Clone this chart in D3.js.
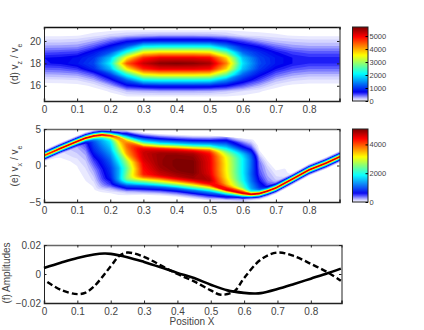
<!DOCTYPE html>
<html>
<head>
<meta charset="utf-8">
<script src="https://cdn.jsdelivr.net/npm/d3@7"></script>
<style>
  body { margin: 0; background: #fff; }
  text { font-family: "Liberation Sans", Arial, sans-serif; fill: #444; }
</style>
</head>
<body>
<div id="chart"></div>
<script>
// panel (d): one column per position, one row per vz, top to bottom
var positionD = [0, 0.05, 0.1, 0.15, 0.2, 0.25, 0.3, 0.35, 0.4, 0.45, 0.5, 0.55, 0.6, 0.65, 0.7, 0.75, 0.8, 0.85, 0.9];
var vzRows = [21, 20.5, 20, 19.5, 19, 18.5, 18, 17.5, 17, 16.5, 16, 15.5, 15, 14.5];
var countsD = [
  [0, 30, 170, 320, 520, 700, 680, 480, 280, 100, 0, 0, 0, 0],
  [0, 30, 170, 330, 540, 730, 730, 500, 300, 110, 0, 0, 0, 0],
  [0, 40, 190, 350, 570, 800, 850, 600, 340, 130, 10, 0, 0, 0],
  [0, 90, 290, 520, 830, 1020, 1120, 960, 540, 270, 70, 0, 0, 0],
  [20, 170, 480, 800, 1200, 1800, 2100, 1750, 1050, 620, 280, 60, 0, 0],
  [30, 230, 700, 1250, 2300, 3600, 4500, 3600, 2300, 1250, 700, 230, 30, 0],
  [30, 270, 850, 2100, 3500, 4800, 5300, 4800, 3500, 2100, 850, 270, 30, 0],
  [30, 300, 900, 2200, 3700, 5100, 5650, 5100, 3700, 2200, 900, 300, 30, 0],
  [30, 300, 900, 2200, 3700, 5100, 5700, 5100, 3700, 2200, 900, 300, 30, 0],
  [30, 300, 900, 2200, 3700, 5100, 5650, 5100, 3700, 2200, 900, 300, 30, 0],
  [30, 280, 880, 2150, 3600, 5000, 5500, 5000, 3600, 2150, 880, 280, 30, 0],
  [30, 230, 750, 1500, 2700, 3800, 4300, 3800, 2700, 1500, 750, 220, 30, 0],
  [20, 130, 550, 900, 1300, 1800, 2000, 1800, 1300, 900, 500, 130, 10, 0],
  [10, 100, 350, 700, 950, 1100, 1150, 1050, 800, 550, 280, 60, 0, 0],
  [0, 70, 230, 460, 720, 850, 850, 700, 480, 260, 80, 0, 0, 0],
  [0, 40, 190, 340, 560, 700, 700, 530, 330, 150, 20, 0, 0, 0],
  [0, 30, 170, 310, 500, 640, 620, 460, 270, 110, 10, 0, 0, 0],
  [0, 30, 170, 310, 500, 640, 620, 460, 270, 110, 10, 0, 0, 0],
  [0, 30, 170, 310, 500, 640, 620, 460, 270, 110, 10, 0, 0, 0]
];

// panel (e): the two thin ridges, rows are read relative to them
var positionE = [0, 0.05, 0.1, 0.125, 0.15, 0.175, 0.2, 0.225, 0.25, 0.3, 0.35, 0.4, 0.45, 0.5, 0.55, 0.6, 0.625, 0.65, 0.675, 0.7, 0.75, 0.8, 0.85, 0.9];
var ridgeHigh = [1.35, 2.35, 3.3, 3.75, 4.05, 4.2, 4.1, 3.85, 3.4, 2.5, 2.3, 2.2, 2.1, 2.1, 1.9, 1.7, 1.6, 1.3, 0.3, -1, 0.15, 1.4, 2.3, 3.35];
var ridgeLow = [-1.3, -0.3, -1, -2.4, -2.9, -2.65, -2.4, -2.3, -2.2, -2, -2.1, -2.3, -2.55, -2.8, -3.35, -3.8, -3.95, -3.85, -3.5, -3.07, -1.85, -0.6, 0.3, 1.35];
var highOffsets = [2, 1.4, 0.8, 0.5, 0.25, 0, -0.25, -0.5, -0.8];
var middleFractions = [0.25, 0.5, 0.75];
var lowOffsets = [0.8, 0.5, 0.25, 0, -0.25, -0.5, -0.8, -1.4, -2];
var countsE = [
  [0, 0, 0, 500, 1900, 4400, 1900, 500, 40, 0, 0, 0, 0, 0, 0, 0, 0, 0, 0, 0, 0],
  [0, 0, 20, 500, 1900, 4800, 1900, 500, 80, 60, 40, 20, 10, 0, 0, 0, 0, 0, 0, 0, 0],
  [0, 0, 30, 500, 1900, 4800, 2000, 650, 260, 200, 140, 60, 40, 30, 10, 0, 0, 0, 0, 0, 0],
  [0, 0, 30, 520, 1950, 4800, 2100, 900, 500, 300, 190, 110, 70, 50, 40, 20, 10, 0, 0, 0, 0],
  [0, 0, 40, 550, 2000, 4700, 2400, 1350, 1050, 800, 490, 280, 130, 100, 70, 50, 40, 20, 0, 0, 0],
  [0, 0, 50, 600, 2000, 4600, 2700, 1800, 1500, 1150, 800, 600, 480, 420, 370, 320, 260, 180, 70, 0, 0],
  [0, 0, 60, 650, 2000, 4400, 3100, 2230, 1870, 1510, 1160, 930, 800, 710, 620, 580, 490, 380, 220, 40, 0],
  [0, 30, 300, 1100, 2300, 3800, 3600, 3300, 3100, 2500, 1900, 1500, 1500, 1500, 1400, 1200, 950, 700, 450, 100, 0],
  [0, 90, 890, 1870, 2670, 3400, 3750, 3900, 3900, 3600, 2760, 2400, 2580, 2580, 2400, 2050, 1600, 1160, 800, 220, 0],
  [50, 670, 1780, 2670, 3300, 4150, 4500, 4650, 4700, 4650, 4500, 4400, 4300, 4000, 3500, 2940, 2400, 1870, 1160, 450, 40],
  [50, 620, 1690, 2580, 3400, 4300, 4650, 4850, 4950, 4950, 4950, 4850, 4650, 4300, 3740, 3200, 2670, 2050, 1250, 450, 40],
  [50, 580, 1650, 2580, 3400, 4300, 4700, 4900, 5000, 5070, 5070, 5030, 4810, 4450, 4000, 3380, 2760, 2140, 1250, 450, 40],
  [50, 580, 1600, 2490, 3300, 4250, 4650, 4850, 4950, 5070, 5070, 5070, 4900, 4540, 4090, 3470, 2850, 2230, 1340, 490, 40],
  [40, 530, 1510, 2230, 3000, 3800, 4200, 4400, 4500, 4550, 4550, 4600, 4810, 4600, 4400, 3800, 3030, 2310, 1420, 530, 50],
  [270, 800, 1420, 1780, 2140, 2490, 2760, 2940, 3120, 3200, 3200, 3290, 3560, 3920, 4400, 4600, 3000, 2000, 900, 120, 0],
  [90, 400, 710, 980, 1250, 1510, 1690, 1780, 1870, 1870, 1870, 1960, 2400, 3000, 3900, 4700, 2700, 1100, 300, 20, 0],
  [60, 250, 500, 700, 850, 1000, 1100, 1150, 1200, 1200, 1150, 1250, 1500, 1800, 2700, 4800, 1900, 500, 50, 0, 0],
  [0, 0, 40, 90, 150, 220, 280, 320, 370, 420, 500, 650, 950, 1250, 2400, 4800, 1900, 500, 50, 0, 0],
  [0, 0, 0, 20, 50, 90, 120, 150, 190, 230, 280, 350, 500, 800, 1900, 4800, 1900, 500, 50, 0, 0],
  [0, 0, 0, 20, 50, 90, 110, 120, 150, 180, 200, 220, 310, 650, 1900, 4800, 1900, 500, 40, 0, 0],
  [0, 0, 0, 0, 0, 0, 0, 0, 0, 0, 0, 20, 60, 500, 1900, 4800, 1900, 500, 40, 0, 0],
  [0, 0, 0, 0, 0, 0, 0, 0, 0, 0, 0, 0, 30, 500, 1900, 4800, 1900, 500, 30, 0, 0],
  [0, 0, 0, 0, 0, 0, 0, 0, 0, 0, 0, 0, 30, 500, 1900, 4800, 1900, 500, 30, 0, 0],
  [0, 0, 0, 0, 0, 0, 0, 0, 0, 0, 0, 0, 30, 500, 1900, 4800, 1900, 500, 30, 0, 0]
];

// panel (f)
var solidX = [0, 0.05, 0.1, 0.15, 0.18, 0.2, 0.25, 0.3, 0.35, 0.4, 0.45, 0.5, 0.55, 0.6, 0.63, 0.65, 0.7, 0.75, 0.8, 0.85, 0.89];
var solidY = [0.0042, 0.0078, 0.0111, 0.0134, 0.0141, 0.0139, 0.0116, 0.0083, 0.0046, 0.0007, -0.0028, -0.0074, -0.0113, -0.013, -0.0134, -0.0132, -0.0104, -0.0069, -0.0032, 0.0005, 0.0037];
var dashX = [0.01, 0.05, 0.1, 0.125, 0.15, 0.2, 0.225, 0.25, 0.3, 0.35, 0.4, 0.45, 0.5, 0.53, 0.57, 0.6, 0.65, 0.7, 0.75, 0.8, 0.85, 0.89];
var dashY = [-0.0055, -0.0109, -0.0139, -0.0128, -0.0086, 0.0053, 0.0123, 0.0148, 0.0118, 0.006, 0, -0.0051, -0.0113, -0.0143, -0.012, -0.0028, 0.0099, 0.0148, 0.0123, 0.007, 0.0012, -0.0046];

var xTicks = [0, 0.1, 0.2, 0.3, 0.4, 0.5, 0.6, 0.7, 0.8];
var barTicksD = [0, 1000, 2000, 3000, 4000, 5000];
var barTicksE = [0, 2000, 4000];
var maxD = 5700, maxE = 5070;

// jet with a white foot
var colorStops = [0, 0.04, 0.1, 0.13, 0.375, 0.625, 0.875, 1];
var colorRange = ["#ffffff", "#c8c8ff", "#3c3cff", "#0000ee", "#00ffff", "#ffff00", "#ff0000", "#800000"];

var svg = d3.select("#chart").append("svg").attr("width", 424).attr("height", 330);
var fmtX = function(d) { return d === 0 ? "0" : d3.format(".1f")(d); };

function colorFor(max) {
  return d3.scaleLinear().domain(colorStops.map(function(s) { return s * max; })).range(colorRange);
}

// filled contour bands, rowValue turns (column, row) indices into the y value
function drawHeat(id, counts, positions, x, y, max, rowValue) {
  var n = counts.length, m = counts[0].length;
  var flat = [];
  for (var j = 0; j < m; j++) for (var i = 0; i < n; i++) flat.push(counts[i][j]);
  var step = max / 70;
  var levels = d3.range(step * 0.6, max, step);
  var color = colorFor(max);
  var bands = d3.contours().size([n, m]).thresholds(levels)(flat);

  var path = d3.geoPath(d3.geoTransform({
    point: function(u, v) {
      var c = Math.max(0, Math.min(n - 1, u - 0.5));
      var r = Math.max(0, Math.min(m - 1, v - 0.5));
      var c0 = Math.floor(c), c1 = Math.min(n - 1, c0 + 1), r0 = Math.floor(r), r1 = Math.min(m - 1, r0 + 1);
      var top = rowValue(c0, r0) + (rowValue(c1, r0) - rowValue(c0, r0)) * (c - c0);
      var bot = rowValue(c0, r1) + (rowValue(c1, r1) - rowValue(c0, r1)) * (c - c0);
      var xv = positions[c0] + (positions[c1] - positions[c0]) * (c - c0);
      // the outer half cell runs past the data, keep the edge columns going
      if (u < 0.5) xv = positions[0] - (0.5 - u) * 0.05;
      if (u > n - 0.5) xv = positions[n - 1] + (u - n + 0.5) * 0.05;
      this.stream.point(x(xv), y(top + (bot - top) * (r - r0)));
    }
  }));

  svg.append("clipPath").attr("id", id).append("rect")
    .attr("x", x.range()[0]).attr("y", y.range()[1])
    .attr("width", x.range()[1] - x.range()[0]).attr("height", y.range()[0] - y.range()[1]);

  svg.append("g").attr("clip-path", "url(#" + id + ")")
    .selectAll("path").data(bands).enter().append("path")
    .attr("d", path)
    .attr("fill", function(d) { return color(d.value + step / 2); });
}

function drawAxes(x, y, yTicks, yFormat, boxColor) {
  var top = y.range()[1], bottom = y.range()[0], left = x.range()[0], right = x.range()[1];
  var xa = svg.append("g").attr("transform", "translate(0," + bottom + ")")
    .call(d3.axisBottom(x).tickValues(xTicks).tickSize(-2.5).tickPadding(5).tickFormat(fmtX));
  var xt = svg.append("g").attr("transform", "translate(0," + top + ")")
    .call(d3.axisTop(x).tickValues(xTicks).tickSize(-2.5).tickFormat(""));
  var ya = svg.append("g").attr("transform", "translate(" + left + ",0)")
    .call(d3.axisLeft(y).tickValues(yTicks).tickSize(-2.5).tickPadding(3).tickFormat(yFormat));
  var yr = svg.append("g").attr("transform", "translate(" + right + ",0)")
    .call(d3.axisRight(y).tickValues(yTicks).tickSize(-2.5).tickFormat(""));
  [xa, xt, ya, yr].forEach(function(a) {
    a.selectAll("text").style("font-size", "10px");
    a.selectAll(".domain").attr("stroke", "#222").attr("stroke-width", 1);
    a.selectAll(".tick line").attr("stroke", "#222");
  });
  xt.select(".domain").attr("stroke", boxColor).attr("stroke-width", 1.5);
  xa.select(".domain").attr("stroke-width", 1.5);
}

function drawBar(max, ticks, y0, y1) {
  var barY = d3.scaleLinear().domain([0, max]).range([y1, y0]);
  var color = colorFor(max);
  var cells = d3.range(0, max, max / 74);
  svg.append("g").selectAll("rect").data(cells).enter().append("rect")
    .attr("x", 352.5).attr("width", 15.5)
    .attr("y", function(d) { return barY(d + max / 74); })
    .attr("height", (y1 - y0) / 74 + 0.5)
    .attr("fill", function(d) { return color(d + max / 148); });
  svg.append("rect").attr("x", 352.5).attr("y", y0).attr("width", 15.5).attr("height", y1 - y0)
    .attr("fill", "none").attr("stroke", "#222");
  var a = svg.append("g").attr("transform", "translate(368,0)")
    .call(d3.axisRight(barY).tickValues(ticks).tickSize(-2.5).tickPadding(1.5).tickFormat(d3.format("d")));
  a.select(".domain").remove();
  a.selectAll("text").style("font-size", "7.5px");
}

// rotated label with a subscript, like "(d) v_z / v_e"
function yLabel(px, py, parts) {
  var t = svg.append("text").attr("transform", "translate(" + px + "," + py + ") rotate(-90)")
    .attr("text-anchor", "middle").style("font-size", "10px");
  parts.forEach(function(p) {
    var s = t.append("tspan").text(p[0]);
    if (p[1]) s.attr("baseline-shift", "sub").style("font-size", "7px");
  });
}

// ---- panel (d)
var xD = d3.scaleLinear().domain([0, 0.892]).range([44, 339.5]);
var yD = d3.scaleLinear().domain([14.64, 21.25]).range([101, 27]);
drawHeat("clipD", countsD, positionD, xD, yD, maxD, function(c, r) { return vzRows[r]; });
drawAxes(xD, yD, [16, 18, 20], d3.format("d"), "#111");
drawBar(maxD, barTicksD, 27, 101);
yLabel(18, 64, [["(d) v"], ["z", 1], [" / v"], ["e", 1]]);

// ---- panel (e)
var xE = d3.scaleLinear().domain([0, 0.892]).range([44, 339.5]);
var yE = d3.scaleLinear().domain([-5, 5]).range([202, 129]);
function velocityAt(c, r) {
  var hi = ridgeHigh[c], lo = ridgeLow[c];
  if (r < highOffsets.length) return hi + highOffsets[r];
  r -= highOffsets.length;
  if (r < middleFractions.length) {
    var a = hi + highOffsets[highOffsets.length - 1], b = lo + lowOffsets[0];
    return a + (b - a) * middleFractions[r];
  }
  return lo + lowOffsets[r - middleFractions.length];
}
drawHeat("clipE", countsE, positionE, xE, yE, maxE, velocityAt);
drawAxes(xE, yE, [-5, 0, 5], d3.format("d"), "#666");
drawBar(maxE, barTicksE, 129, 202);
yLabel(18, 166, [["(e) v"], ["x", 1], [" / v"], ["e", 1]]);

// ---- panel (f)
var xF = d3.scaleLinear().domain([0, 0.892]).range([44, 341.5]);
var yF = d3.scaleLinear().domain([-0.02, 0.02]).range([303, 245]);
var line = d3.line().x(function(d) { return xF(d[0]); }).y(function(d) { return yF(d[1]); }).curve(d3.curveCatmullRom);
drawAxes(xF, yF, [-0.02, 0, 0.02], function(d) { return d === 0 ? "0" : d3.format(".2f")(d); }, "#666");
svg.append("path").attr("d", line(d3.zip(solidX, solidY)))
  .attr("fill", "none").attr("stroke", "#000").attr("stroke-width", 2.6);
svg.append("path").attr("d", line(d3.zip(dashX, dashY)))
  .attr("fill", "none").attr("stroke", "#000").attr("stroke-width", 2.4).attr("stroke-dasharray", "6,3");
yLabel(9.5, 273, [["(f) Amplitudes"]]);
svg.append("text").attr("x", 192).attr("y", 325).attr("text-anchor", "middle")
  .style("font-size", "10px").text("Position X");
</script>
</body>
</html>
